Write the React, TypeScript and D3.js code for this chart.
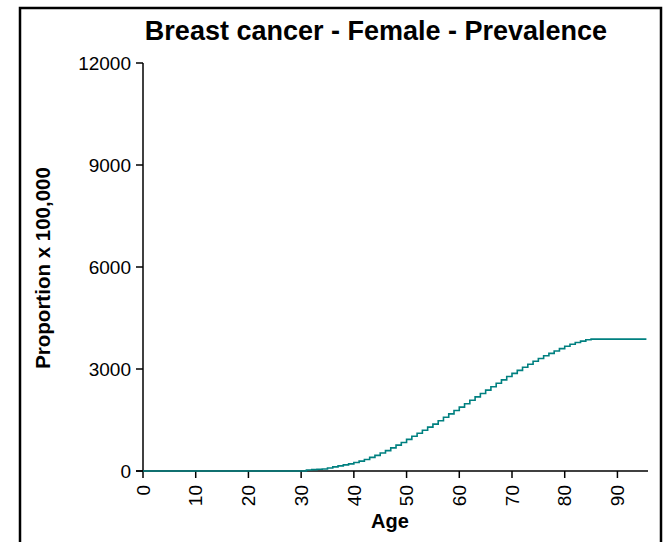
import React from "react";
import * as d3 from "d3";

const ages: number[] = [];
for (let a = 0; a <= 95; a++) ages.push(a);
const prevalence: number[] = [
  0, 0, 0, 0, 0, 0, 0, 0, 0, 0,
  0, 0, 0, 0, 0, 0, 0, 0, 0, 0,
  0, 0, 0, 0, 0, 0, 0, 0, 0, 0,
  0, 30, 40, 50, 60, 90, 120, 150, 180, 210,
  250, 290, 340, 400, 460, 530, 600, 680, 760, 840,
  930, 1020, 1110, 1200, 1290, 1380, 1480, 1580, 1680, 1780,
  1880, 1980, 2080, 2180, 2280, 2380, 2480, 2580, 2680, 2780,
  2870, 2960, 3050, 3140, 3230, 3310, 3390, 3460, 3530, 3600,
  3670, 3730, 3780, 3820, 3860, 3880, 3880, 3880, 3880, 3880,
  3880, 3880, 3880, 3880, 3880, 3880,
];
const xTicks = [0, 10, 20, 30, 40, 50, 60, 70, 80, 90];
const yTicks = [0, 3000, 6000, 9000, 12000];
const title = "Breast cancer - Female - Prevalence";
const xLabel = "Age";
const yLabel = "Proportion x 100,000";

export default function App() {
  const font = "'Liberation Sans', Arial, sans-serif";
  const x = d3.scaleLinear().domain([0, 95.8]).range([143, 648]);
  const y = d3.scaleLinear().domain([0, 12000]).range([471, 63]);
  const data = ages.map((a, i) => ({ a, v: prevalence[i] }));
  const lastAge = 95.5;
  const pts = [...data, { a: lastAge, v: prevalence[prevalence.length - 1] }];
  const line = d3
    .line<{ a: number; v: number }>()
    .x((d) => x(d.a))
    .y((d) => y(d.v))
    .curve(d3.curveStepAfter);
  return (
    <svg
      width={666}
      height={542}
      style={{ position: "absolute", left: 0, top: 0, background: "#fff" }}
    >
      <rect x={20} y={8} width={641} height={560} fill="#fff" stroke="#000" strokeWidth={2.5} />
      <text x={376} y={40} textAnchor="middle" fontFamily={font} fontWeight="bold" fontSize={27}>
        {title}
      </text>
      {/* y axis */}
      <line x1={x(0)} x2={x(0)} y1={y(12000)} y2={y(0)} stroke="#000" strokeWidth={1.5} />
      {yTicks.map((t) => (
        <g key={t}>
          <line x1={x(0) - 7} x2={x(0)} y1={y(t)} y2={y(t)} stroke="#000" strokeWidth={1.5} />
          <text x={x(0) - 12} y={y(t)} dy="0.35em" textAnchor="end" fontFamily={font} fontSize={19}>
            {t}
          </text>
        </g>
      ))}
      {/* x axis */}
      <line x1={x(0) - 7} x2={x(95.8)} y1={y(0)} y2={y(0)} stroke="#000" strokeWidth={1.5} />
      {xTicks.map((t) => (
        <g key={t}>
          <line x1={x(t)} x2={x(t)} y1={y(0)} y2={y(0) + 7} stroke="#000" strokeWidth={1.5} />
          <text
            transform={`translate(${x(t)},${y(0) + 14}) rotate(-90)`}
            dy="0.35em"
            textAnchor="end"
            fontFamily={font}
            fontSize={19}
          >
            {t}
          </text>
        </g>
      ))}
      <path d={line(pts) || ""} fill="none" stroke="#008080" strokeWidth={1.6} />
      <text x={390} y={528} textAnchor="middle" fontFamily={font} fontWeight="bold" fontSize={20}>
        {xLabel}
      </text>
      <text
        transform={`translate(50,268) rotate(-90)`}
        textAnchor="middle"
        fontFamily={font}
        fontWeight="bold"
        fontSize={20.5}
      >
        {yLabel}
      </text>
    </svg>
  );
}
